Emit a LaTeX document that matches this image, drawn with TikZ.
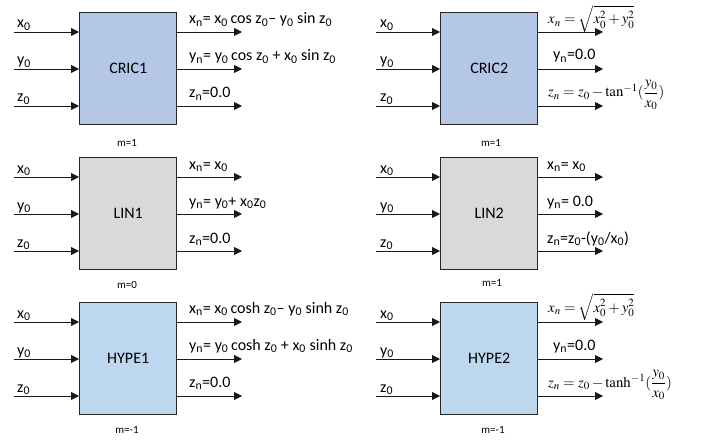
\documentclass[tikz,border=0pt]{standalone}
\usepackage{mathptmx}
\usepackage[no-math]{fontspec}
\setmainfont{Carlito}
\usetikzlibrary{arrows.meta}
\newcommand\sbt[1]{\textsubscript{#1}}
\definecolor{cricfill}{HTML}{B4C7E7}
\definecolor{linfill}{HTML}{D9D9D9}
\definecolor{hypfill}{HTML}{BDD7EE}
\definecolor{edge}{HTML}{262626}
\tikzset{
  blk/.style={draw=edge, line width=1.4pt, minimum width=97pt, minimum height=112pt,
    anchor=north west, inner sep=0pt, font=\fontsize{16}{18}\selectfont},
  arr/.style={-{Triangle[length=8pt,width=8pt]}, line width=0.9pt, draw=black!90},
  lbl/.style={anchor=base west, inner sep=0pt, font=\fontsize{16}{18}\selectfont},
  mlbl/.style={anchor=center, inner sep=0pt, font=\fontsize{11}{13}\selectfont},
  fml/.style={anchor=base west, inner sep=0pt, font=\fontsize{14.8}{17}\selectfont},
}
\begin{document}
\begin{tikzpicture}[x=1pt,y=-1pt]
\useasboundingbox[fill=white] (0,0) rectangle (701,441);

% boxes
\node[blk, fill=cricfill] (cric1) at (79,12)  {CRIC1};
\node[blk, fill=cricfill] (cric2) at (440,12) {CRIC2};
\node[blk, fill=linfill]  (lin1)  at (79,157) {LIN1};
\node[blk, fill=linfill]  (lin2)  at (440,157) {LIN2};
\node[blk, fill=hypfill]  (hype1) at (79,302) {HYPE1};
\node[blk, fill=hypfill]  (hype2) at (440,302) {HYPE2};

% inputs / outputs
\foreach \b/\xs/\xe/\ya/\yb/\yc in {cric1/14/242/32/69/106, cric2/376/603/32/69/106,
    lin1/14/242/177/214/251, lin2/376/603/177/214/251,
    hype1/14/242/322/359/396, hype2/376/603/322/359/396}{
  \foreach \k/\yy in {a/\ya, b/\yb, c/\yc}{
    \coordinate (\b-in\k) at (\xs,\yy);
    \coordinate (\b-out\k) at (\xe,\yy);
    \draw[arr] (\b-in\k) -- (\b-in\k -| \b.west);
    \draw[arr] (\b-out\k -| \b.east) -- (\b-out\k);
  }
}

% input labels
\foreach \b/\x in {cric1/17, lin1/17, hype1/17, cric2/380, lin2/380, hype2/380}{
  \node[lbl] (\b-lxa) at (\x, 0 |- \b-ina) [yshift=4pt] {x\sbt{0}};
  \node[lbl] (\b-lya) at (\x, 0 |- \b-inb) [yshift=4pt] {y\sbt{0}};
  \node[lbl] (\b-lza) at (\x, 0 |- \b-inc) [yshift=4pt] {z\sbt{0}};
}

% output labels
\node[lbl] (c1x) at (189,24)  {x\sbt{n}= x\sbt{0}\,cos z\sbt{0}– y\sbt{0} sin z\sbt{0}};
\node[lbl] (c1y) at (189,61)  {y\sbt{n}= y\sbt{0}\,cos z\sbt{0} + x\sbt{0} sin z\sbt{0}};
\node[lbl] (c1z) at (189,98)  {z\sbt{n}=0.0};

\node[fml] (c2x) at (548,24)  {$x_n=\sqrt{x_0^2+y_0^2}$};
\node[lbl] (c2y) at (553,60)  {y\sbt{n}=0.0};
\node[fml] (c2z) at (548,97)  {$z_n=z_0-\tan^{-1}(\displaystyle\frac{y_0}{x_0})$};

\node[lbl] (l1x) at (189,169) {x\sbt{n}= x\sbt{0}};
\node[lbl] (l1y) at (189,206) {y\sbt{n}= y\sbt{0}+ x\sbt{0}z\sbt{0}};
\node[lbl] (l1z) at (189,243) {z\sbt{n}=0.0};

\node[lbl] (l2x) at (547,169) {x\sbt{n}= x\sbt{0}};
\node[lbl] (l2y) at (547,206) {y\sbt{n}= 0.0};
\node[lbl] (l2z) at (547,243) {z\sbt{n}=z\sbt{0}-(y\sbt{0}/x\sbt{0})};

\node[lbl] (h1x) at (189,313) {x\sbt{n}= x\sbt{0}\,cosh z\sbt{0}– y\sbt{0} sinh z\sbt{0}};
\node[lbl] (h1y) at (189,350) {y\sbt{n}= y\sbt{0}\,cosh z\sbt{0} + x\sbt{0} sinh z\sbt{0}};
\node[lbl] (h1z) at (189,387) {z\sbt{n}=0.0};

\node[fml] (h2x) at (548,312) {$x_n=\sqrt{x_0^2+y_0^2}$};
\node[lbl] (h2y) at (553,350) {y\sbt{n}=0.0};
\node[fml] (h2z) at (548,387) {$z_n=z_0-\tanh^{-1}(\displaystyle\frac{y_0}{x_0})$};

% m labels
\node[mlbl] (m1) at (127,143) {m=1};
\node[mlbl] (m2) at (491,143) {m=1};
\node[mlbl] (m3) at (127,285) {m=0};
\node[mlbl] (m4) at (492,283) {m=1};
\node[mlbl] (m5) at (127,430) {m=-1};
\node[mlbl] (m6) at (493,430) {m=-1};
\end{tikzpicture}
\end{document}
